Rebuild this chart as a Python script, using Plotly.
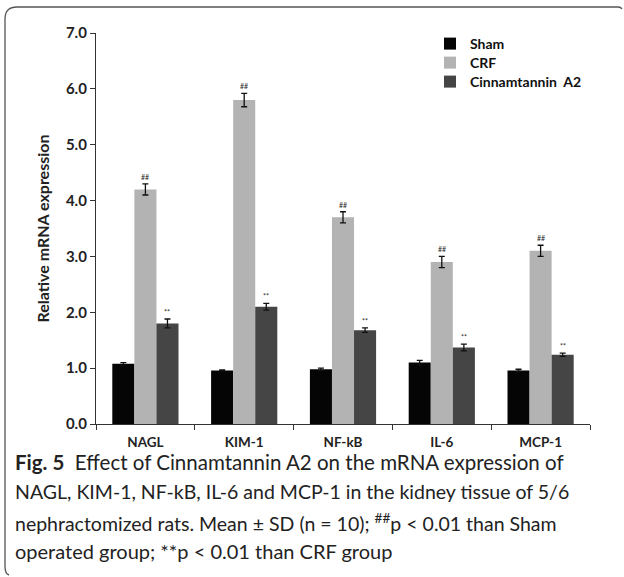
import plotly.graph_objects as go

categories = ["NAGL", "KIM-1", "NF-kB", "IL-6", "MCP-1"]
series_names = ["Sham", "CRF", "Cinnamtannin  A2"]
sham = [1.08, 0.96, 0.98, 1.10, 0.96]
sham_err = [0.02, 0.01, 0.02, 0.04, 0.02]
crf = [4.20, 5.80, 3.70, 2.90, 3.10]
crf_err = [0.10, 0.12, 0.10, 0.10, 0.10]
cinn = [1.80, 2.10, 1.68, 1.37, 1.24]
cinn_err = [0.08, 0.06, 0.04, 0.06, 0.03]
crf_marks = ["##"] * 5
cinn_marks = ["**"] * 5
yticks = [0, 1, 2, 3, 4, 5, 6, 7]
caption_lines = [
    "<b>Fig. 5</b>  Effect of Cinnamtannin A2 on the mRNA expression of",
    "NAGL, KIM-1, NF-kB, IL-6 and MCP-1 in the kidney tissue of 5/6",
    "nephractomized rats. Mean ± SD (n = 10); <sup>##</sup>p < 0.01 than Sham",
    "operated group; **p < 0.01 than CRF group",
]
caption_sizes = [20.5, 19.5, 19.5, 20]

colors = ["#050505", "#b3b3b3", "#454545"]
W, H = 624, 577
L, R, T, B = 96, 34, 33, 153
pw, ph = W - L - R, H - T - B

def px(x):
    return (x - L) / pw

def py(y):
    return (H - B - y) / ph

fig = go.Figure()
legend_ids = ["legend", "legend2", "legend3"]
for name, vals, errs, col, lg in zip(series_names, [sham, crf, cinn], [sham_err, crf_err, cinn_err], colors, legend_ids):
    fig.add_trace(go.Bar(
        x=categories, y=vals, name=name, legend=lg,
        marker=dict(color=col, line=dict(width=0)),
        error_y=dict(type="data", array=errs, visible=True, color="#111", thickness=1.3, width=3),
    ))

annotations = []
group_w = (1 - 0.33) / 3
for i, c in enumerate(categories):
    annotations.append(dict(x=c, y=crf[i] + crf_err[i], text=crf_marks[i], showarrow=False,
                            xref="x", yref="y", yshift=7, font=dict(size=7, color="#222", family="Lato")))
    annotations.append(dict(x=c, y=cinn[i] + cinn_err[i], text=cinn_marks[i], showarrow=False,
                            xref="x", yref="y", yshift=7, xshift=group_w * pw / 5,
                            font=dict(size=7, color="#222", family="Lato")))

cap_y = [462, 492, 522, 551]
for line, yy, fs in zip(caption_lines, cap_y, caption_sizes):
    annotations.append(dict(x=px(13), y=py(yy), xref="paper", yref="paper", text=line,
                            showarrow=False, xanchor="left", yanchor="middle",
                            font=dict(size=fs, color="#222", family="Lato")))

frame = (f"M {px(618)},{py(7)} Q {px(621)},{py(7)} {px(622)},{py(9)} "
         f"M {px(618)},{py(7)} L {px(17)},{py(7)} Q {px(5)},{py(7)} {px(5)},{py(19)} "
         f"L {px(5)},{py(566)} Q {px(5)},{py(574)} {px(9)},{py(575)}")

leg_common = dict(xanchor="left", yanchor="middle", itemwidth=30, bgcolor="rgba(0,0,0,0)",
                  font=dict(size=14, family="Lato", color="#111", weight="bold"))
leg_rows = [44, 63, 82]

fig.update_layout(
    width=W, height=H,
    margin=dict(l=L, r=R, t=T, b=B),
    paper_bgcolor="white", plot_bgcolor="white",
    barmode="group", bargap=0.33, bargroupgap=0,
    font=dict(family="Lato", color="#222"),
    showlegend=True,
    legend=dict(x=px(430), y=py(leg_rows[0]), **leg_common),
    legend2=dict(x=px(430), y=py(leg_rows[1]), **leg_common),
    legend3=dict(x=px(430), y=py(leg_rows[2]), **leg_common),
    xaxis=dict(showline=True, linecolor="#333", linewidth=1.2, ticks="outside", ticklen=5,
               tickcolor="#333", tickson="boundaries",
               tickfont=dict(size=13.5, family="Lato", weight="bold", color="#222"), ticklabelstandoff=6),
    yaxis=dict(range=[0, 7], tickvals=yticks, tickformat=".1f", showline=True, linecolor="#333",
               linewidth=1.2, ticks="outside", ticklen=5, tickcolor="#333", showgrid=False, zeroline=False,
               tickfont=dict(size=15, family="Lato", weight="bold", color="#222"),
               title=dict(text="Relative mRNA expression", standoff=12,
                          font=dict(size=16, family="Lato", weight="bold", color="#222"))),
    annotations=annotations,
    shapes=[dict(type="path", path=frame, xref="paper", yref="paper",
                 line=dict(color="#555", width=1.3))],
)

fig.write_html("out.html")
